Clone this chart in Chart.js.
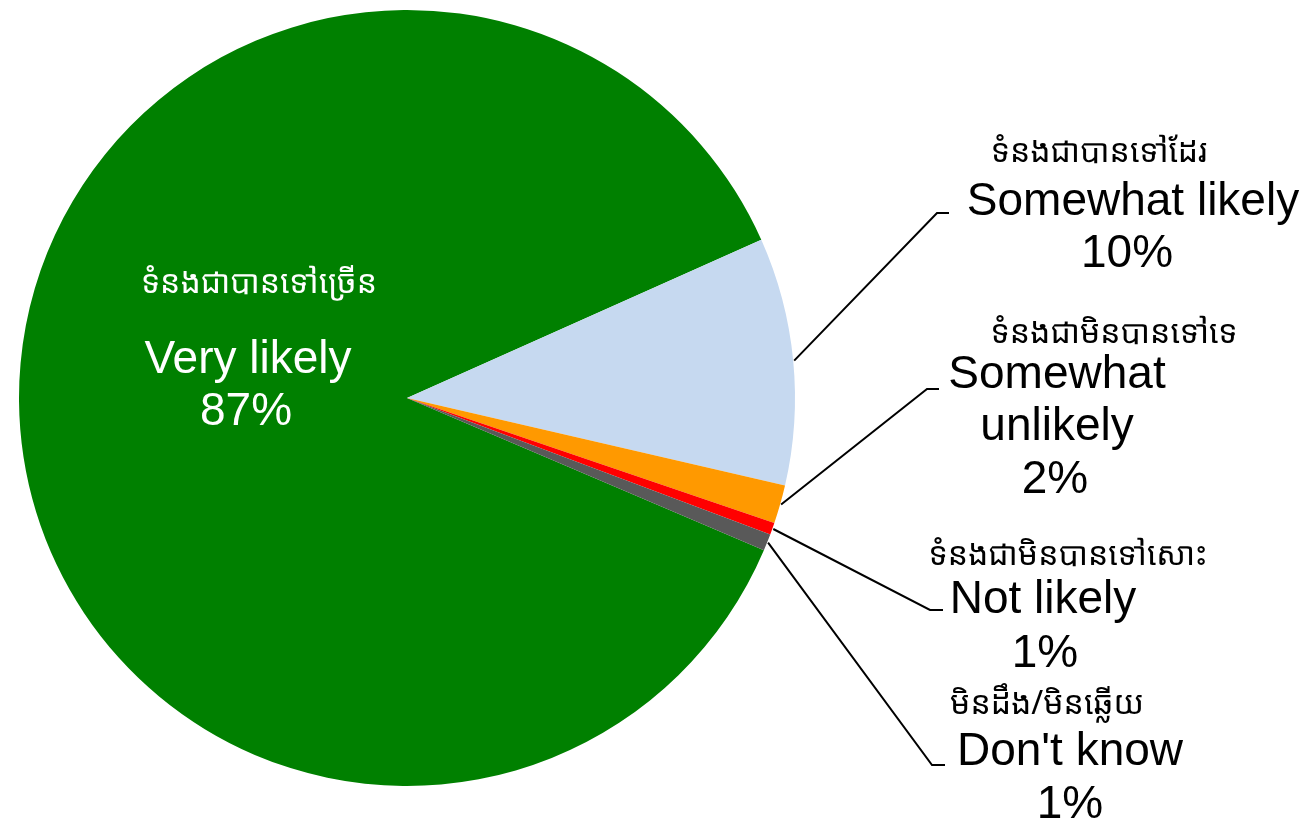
<!DOCTYPE html>
<html>
<head>
<meta charset="utf-8">
<script src="https://cdn.jsdelivr.net/npm/chart.js@4.4.1/dist/chart.umd.min.js"></script>
<style>
  html, body { margin: 0; padding: 0; background: #fff; }
  #wrap { width: 1316px; height: 829px; }
</style>
</head>
<body>
<div id="wrap"><canvas id="pie-chart" width="1316" height="829"></canvas></div>
<script>
// data
const categories = ['Very likely', 'Somewhat likely', 'Somewhat unlikely', 'Not likely', "Don't know"];
const khmerLabels = ['ទំនងជាបានទៅច្រើន', 'ទំនងជាបានទៅដែរ', 'ទំនងជាមិនបានទៅទេ', 'ទំនងជាមិនបានទៅសោះ', 'មិនដឹង/មិនឆ្លើយ'];
const shares = [86.9, 10.3, 1.6, 0.5, 0.7];
const shareLabels = ['87%', '10%', '2%', '1%', '1%'];
const sliceColors = ['#008000', '#c6d9f0', '#ff9900', '#ff0000', '#595959'];

// label placement (x = centre of each text line, y = baseline)
const labelBoxes = [
    {color: '#fff', lines: [[259, 293, 'km'], [248, 373, 'en', 'Very likely'], [246, 425, 'pct']]},
    {color: '#000', bend: [937, 213, 949], lines: [[1099, 162, 'km'], [1133, 215, 'en', 'Somewhat likely'], [1127, 267, 'pct']]},
    {color: '#000', bend: [927, 389, 939], lines: [[1114, 343, 'km'], [1057, 388, 'en', 'Somewhat'], [1057, 440, 'en', 'unlikely'], [1055, 493, 'pct']]},
    {color: '#000', bend: [930, 610, 943], lines: [[1068, 565, 'km'], [1043, 613, 'en', 'Not likely'], [1045, 667, 'pct']]},
    {color: '#000', bend: [932, 765, 945], lines: [[1047, 714, 'km'], [1070, 765, 'en', "Don't know"], [1070, 818, 'pct']]},
];

const enFont = '46px "Liberation Sans", Arial, sans-serif';
const kmFont = '32px "Noto Sans Khmer", "Khmer OS System", "Khmer OS", "DejaVu Sans", sans-serif';

const pieLabels = {
    id: 'pieLabels',
    afterDatasetsDraw(chart) {
        const ctx = chart.ctx;
        const meta = chart.getDatasetMeta(0);
        ctx.save();
        labelBoxes.forEach((box, i) => {
            if (box.bend) {
                const arc = meta.data[i];
                const mid = (arc.startAngle + arc.endAngle) / 2;
                const r = arc.outerRadius + 1;
                ctx.beginPath();
                ctx.moveTo(arc.x + Math.cos(mid) * r, arc.y + Math.sin(mid) * r);
                ctx.lineTo(box.bend[0], box.bend[1]);
                ctx.lineTo(box.bend[2], box.bend[1]);
                ctx.strokeStyle = '#000';
                ctx.lineWidth = 2;
                ctx.stroke();
            }
            ctx.fillStyle = box.color;
            ctx.textAlign = 'center';
            ctx.textBaseline = 'alphabetic';
            box.lines.forEach(line => {
                let text;
                if (line[2] == 'km') {
                    ctx.font = kmFont;
                    text = khmerLabels[i];
                } else if (line[2] == 'pct') {
                    ctx.font = enFont;
                    text = shareLabels[i];
                } else {
                    ctx.font = enFont;
                    text = line[3];
                }
                ctx.fillText(text, line[0], line[1]);
            });
        });
        ctx.restore();
    }
};

let pieChart = new Chart(document.getElementById('pie-chart'), {
    type: 'pie',
    data: {
        labels: categories,
        datasets: [
            {
                data: shares,
                backgroundColor: sliceColors,
                borderWidth: 0,
            },
        ]
    },
    options: {
        responsive: false,
        animation: false,
        rotation: 113.1,
        layout: {
            padding: {left: 19, top: 10, right: 521, bottom: 43}
        },
        plugins: {
            legend: { display: false },
            tooltip: { enabled: false },
        }
    },
    plugins: [pieLabels]
});
</script>
</body>
</html>
